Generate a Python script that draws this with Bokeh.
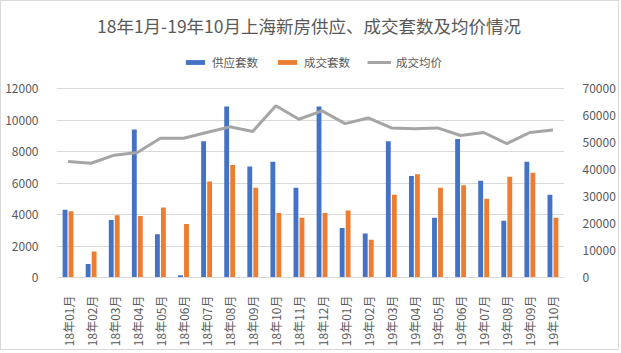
import math
from bokeh.plotting import figure
from bokeh.models import (FactorRange, Range1d, LinearAxis, Legend, LegendItem, Label,
                          ColumnDataSource, FixedTicker, NumeralTickFormatter)
from bokeh.transform import dodge
from bokeh.embed import file_html
from bokeh.resources import INLINE

months = ["18年01月", "18年02月", "18年03月", "18年04月", "18年05月", "18年06月",
          "18年07月", "18年08月", "18年09月", "18年10月", "18年11月", "18年12月",
          "19年01月", "19年02月", "19年03月", "19年04月", "19年05月", "19年06月",
          "19年07月", "19年08月", "19年09月", "19年10月"]
supply = [4300, 850, 3650, 9400, 2750, 150, 8650, 10850, 7050, 7350, 5700, 10850,
          3150, 2800, 8650, 6450, 3800, 8800, 6150, 3600, 7350, 5250]
deals = [4200, 1650, 3950, 3900, 4450, 3400, 6100, 7150, 5700, 4100, 3800, 4100,
         4250, 2400, 5250, 6550, 5700, 5850, 5000, 6400, 6650, 3800]
price = [43000, 42300, 45300, 46300, 51600, 51600, 53700, 55800, 54100, 63600, 58600, 61700,
         57000, 59100, 55400, 55100, 55400, 52600, 53700, 49600, 53700, 54600]
left_ticks = [0, 2000, 4000, 6000, 8000, 10000, 12000]
right_ticks = [0, 10000, 20000, 30000, 40000, 50000, 60000, 70000]

title_text = "18年1月-19年10月上海新房供应、成交套数及均价情况"
FONT = "Noto Sans CJK SC"
TXT = "#595959"
GRID = "#d9d9d9"

# frame spans from the top of the canvas down to the x axis; the value axes
# only carry ticks for 0..12000 / 0..70000 (the area above holds title & legend)
FRAME_H = 276
AXIS_PX = 189
left_max = 12000 * FRAME_H / AXIS_PX
right_max = 70000 * FRAME_H / AXIS_PX

src = ColumnDataSource(dict(m=months, supply=supply, deals=deals, price=price))

p = figure(width=619, height=350, output_backend="svg", toolbar_location=None,
           x_range=FactorRange(factors=months, range_padding=0),
           y_range=Range1d(0, left_max),
           min_border_left=55, min_border_right=56, min_border_top=0, min_border_bottom=74)
p.styles = {"border": "1px solid #d9d9d9"}
p.extra_y_ranges = {"price": Range1d(0, right_max)}
p.outline_line_color = None
p.background_fill_color = "white"
p.border_fill_color = "white"

b1 = p.vbar(x=dodge("m", -0.13, range=p.x_range), top="supply", width=0.21,
            source=src, color="#4472C4", line_color=None)
b2 = p.vbar(x=dodge("m", 0.13, range=p.x_range), top="deals", width=0.21,
            source=src, color="#ED7D31", line_color=None)
ln = p.line(x="m", y="price", source=src, y_range_name="price",
            line_color="#A5A5A5", line_width=3)

# axes
xa = p.xaxis[0]
xa.major_label_orientation = math.pi / 2
xa.axis_line_color = GRID
xa.major_tick_line_color = None
xa.minor_tick_line_color = None
xa.major_label_standoff = 12
xa.major_label_text_font = FONT
xa.major_label_text_font_size = "12px"
xa.major_label_text_color = TXT

ya = p.yaxis[0]
ya.ticker = FixedTicker(ticks=left_ticks)
ya.formatter = NumeralTickFormatter(format="0")
ya.axis_line_color = None
ya.major_tick_line_color = None
ya.minor_tick_line_color = None
ya.major_label_standoff = 12
ya.major_label_text_font = FONT
ya.major_label_text_font_size = "12px"
ya.major_label_text_color = TXT

ra = LinearAxis(y_range_name="price", ticker=FixedTicker(ticks=right_ticks),
                formatter=NumeralTickFormatter(format="0"))
ra.axis_line_color = None
ra.major_tick_line_color = None
ra.minor_tick_line_color = None
ra.major_label_standoff = 12
ra.major_label_text_font = FONT
ra.major_label_text_font_size = "12px"
ra.major_label_text_color = TXT
p.add_layout(ra, "right")

p.xgrid.grid_line_color = None
p.ygrid.grid_line_color = GRID
p.ygrid.ticker = FixedTicker(ticks=left_ticks)

# title (inside the frame's upper empty area)
p.add_layout(Label(x=252.5, y=252, x_units="screen", y_units="screen", text=title_text,
                   text_align="center", text_baseline="middle", text_font=FONT,
                   text_font_size="17.5px", text_color=TXT))

# legend
legend = Legend(items=[LegendItem(label="供应套数", renderers=[b1]),
                       LegendItem(label="成交套数", renderers=[b2]),
                       LegendItem(label="成交均价", renderers=[ln])],
                orientation="horizontal", location=(127, 205),
                padding=0, margin=0, spacing=17, label_standoff=5,
                glyph_width=24, glyph_height=6, label_height=20,
                label_text_font=FONT, label_text_font_size="11.5px",
                label_text_color=TXT, background_fill_alpha=0, border_line_color=None)
p.add_layout(legend, "center")

open("out.html", "w").write(file_html(p, INLINE))
